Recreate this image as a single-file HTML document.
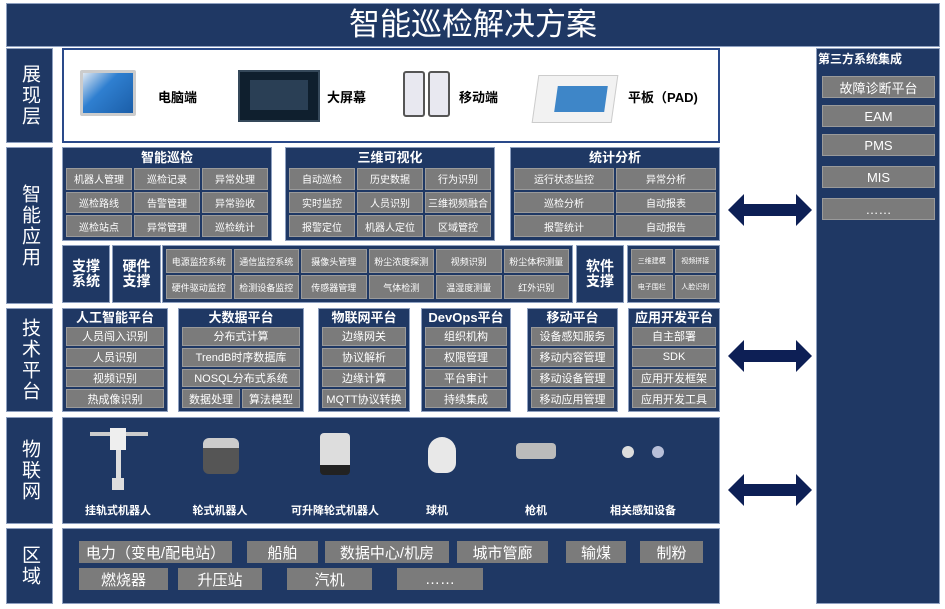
<!DOCTYPE html><html><head><meta charset="utf-8"><style>
*{box-sizing:border-box;margin:0;padding:0}
body{width:945px;height:609px;background:#fff;position:relative;overflow:hidden;font-family:"Liberation Sans","Noto Sans CJK SC",sans-serif;color:#fff}
.a{position:absolute}
.n{background:#1f3864;border:1px solid #8ea0c0}
.lab{display:flex;align-items:center;justify-content:center;writing-mode:vertical-rl;font-size:19px;letter-spacing:2px}
.box{display:flex;flex-direction:column;padding:0 3px 3px}
.t{text-align:center;font-size:13px;font-weight:bold;line-height:20px}
.g{display:grid;gap:2px;flex:1}
.c{background:#7b7b7b;border:1px solid #9a9a9a;display:flex;align-items:center;justify-content:center;font-size:10px;white-space:nowrap;overflow:hidden}
.p{background:#7b7b7b;font-size:15px;display:flex;align-items:center;justify-content:center;height:22px}
.dl{font-size:11px;font-weight:bold;text-align:center;width:120px}
.dev{font-size:13px;color:#000;font-weight:bold}
</style></head><body>
<div class="a n" style="left:6px;top:3px;width:934px;height:44px;font-size:31px;text-align:center;line-height:42px">智能巡检解决方案</div>

<div class="a n lab" style="left:6px;top:48px;width:47px;height:95px">展现层</div>
<div class="a n lab" style="left:6px;top:147px;width:47px;height:157px">智能应用</div>
<div class="a n lab" style="left:6px;top:308px;width:47px;height:104px">技术平台</div>
<div class="a n lab" style="left:6px;top:417px;width:47px;height:107px">物联网</div>
<div class="a n lab" style="left:6px;top:528px;width:47px;height:76px">区域</div>

<!-- 展现层 -->
<div class="a" style="left:62px;top:48px;width:658px;height:95px;border:2px solid #2a4a8a;background:#fff"></div>
<div class="a" style="left:80px;top:70px;width:56px;height:46px;background:linear-gradient(135deg,#dfe8f2,#2f7fd0 40%,#1b5ea8);border:3px solid #ccc;border-radius:2px"></div>
<div class="a dev" style="left:158px;top:87px">电脑端</div>
<div class="a" style="left:238px;top:70px;width:82px;height:52px;background:#0f1f2e;border:2px solid #35485a"><div style="margin:8px 10px;height:30px;background:#2a3f55"></div></div>
<div class="a dev" style="left:327px;top:87px">大屏幕</div>
<div class="a" style="left:403px;top:71px;width:22px;height:46px;background:#e8e8f0;border:2px solid #555;border-radius:3px"></div>
<div class="a" style="left:428px;top:71px;width:22px;height:46px;background:#e8e8f0;border:2px solid #555;border-radius:3px"></div>
<div class="a dev" style="left:459px;top:87px">移动端</div>
<div class="a" style="left:535px;top:75px;width:80px;height:48px;background:#f2f2f2;border:1px solid #ccc;transform:skewX(-8deg)"><div style="margin:10px 8px 8px 20px;height:26px;background:#3e86c8"></div></div>
<div class="a dev" style="left:628px;top:87px">平板（PAD)</div>

<!-- 智能应用 -->
<div class="a n box" style="left:62px;top:147px;width:210px;height:94px"><div class="t">智能巡检</div><div class="g" style="grid-template-columns:repeat(3,1fr)"><div class="c">机器人管理</div><div class="c">巡检记录</div><div class="c">异常处理</div><div class="c">巡检路线</div><div class="c">告警管理</div><div class="c">异常验收</div><div class="c">巡检站点</div><div class="c">异常管理</div><div class="c">巡检统计</div></div></div>
<div class="a n box" style="left:285px;top:147px;width:210px;height:94px"><div class="t">三维可视化</div><div class="g" style="grid-template-columns:repeat(3,1fr)"><div class="c">自动巡检</div><div class="c">历史数据</div><div class="c">行为识别</div><div class="c">实时监控</div><div class="c">人员识别</div><div class="c">三维视频融合</div><div class="c">报警定位</div><div class="c">机器人定位</div><div class="c">区域管控</div></div></div>
<div class="a n box" style="left:510px;top:147px;width:210px;height:94px"><div class="t">统计分析</div><div class="g" style="grid-template-columns:repeat(2,1fr)"><div class="c">运行状态监控</div><div class="c">异常分析</div><div class="c">巡检分析</div><div class="c">自动报表</div><div class="c">报警统计</div><div class="c">自动报告</div></div></div>

<div class="a n" style="left:62px;top:245px;width:48px;height:58px;font-size:14px;font-weight:bold;display:flex;align-items:center;justify-content:center;text-align:center;line-height:15px">支撑<br>系统</div>
<div class="a n" style="left:112px;top:245px;width:49px;height:58px;font-size:14px;font-weight:bold;display:flex;align-items:center;justify-content:center;text-align:center;line-height:15px">硬件<br>支撑</div>
<div class="a n" style="left:162px;top:245px;width:411px;height:58px;padding:3px"><div class="g" style="height:100%;grid-template-columns:repeat(6,1fr)"><div class="c" style="font-size:9px">电源监控系统</div><div class="c" style="font-size:9px">通信监控系统</div><div class="c" style="font-size:9px">摄像头管理</div><div class="c" style="font-size:9px">粉尘浓度探测</div><div class="c" style="font-size:9px">视频识别</div><div class="c" style="font-size:9px">粉尘体积测量</div><div class="c" style="font-size:9px">硬件驱动监控</div><div class="c" style="font-size:9px">检测设备监控</div><div class="c" style="font-size:9px">传感器管理</div><div class="c" style="font-size:9px">气体检测</div><div class="c" style="font-size:9px">温湿度测量</div><div class="c" style="font-size:9px">红外识别</div></div></div>
<div class="a n" style="left:576px;top:245px;width:48px;height:58px;font-size:14px;font-weight:bold;display:flex;align-items:center;justify-content:center;text-align:center;line-height:15px">软件<br>支撑</div>
<div class="a n" style="left:627px;top:245px;width:93px;height:58px;padding:3px"><div class="g" style="height:100%;grid-template-columns:repeat(2,1fr)"><div class="c" style="font-size:7px">三维建模</div><div class="c" style="font-size:7px">视频拼接</div><div class="c" style="font-size:7px">电子围栏</div><div class="c" style="font-size:7px">人脸识别</div></div></div>

<!-- 技术平台 -->
<div class="a n box" style="left:62px;top:308px;width:106px;height:104px"><div class="t" style="line-height:18px">人工智能平台</div><div class="g" style="grid-template-rows:repeat(4,1fr)"><div class="c" style="font-size:11px">人员闯入识别</div><div class="c" style="font-size:11px">人员识别</div><div class="c" style="font-size:11px">视频识别</div><div class="c" style="font-size:11px">热成像识别</div></div></div>
<div class="a n box" style="left:178px;top:308px;width:126px;height:104px"><div class="t" style="line-height:18px">大数据平台</div><div class="g" style="grid-template-columns:1fr 1fr;grid-template-rows:repeat(4,1fr)"><div class="c" style="font-size:11px;grid-column:span 2">分布式计算</div><div class="c" style="font-size:11px;grid-column:span 2">TrendB时序数据库</div><div class="c" style="font-size:11px;grid-column:span 2">NOSQL分布式系统</div><div class="c" style="font-size:11px">数据处理</div><div class="c" style="font-size:11px">算法模型</div></div></div>
<div class="a n box" style="left:318px;top:308px;width:92px;height:104px"><div class="t" style="line-height:18px">物联网平台</div><div class="g" style="grid-template-rows:repeat(4,1fr)"><div class="c" style="font-size:11px">边缘网关</div><div class="c" style="font-size:11px">协议解析</div><div class="c" style="font-size:11px">边缘计算</div><div class="c" style="font-size:11px">MQTT协议转换</div></div></div>
<div class="a n box" style="left:421px;top:308px;width:90px;height:104px"><div class="t" style="line-height:18px">DevOps平台</div><div class="g" style="grid-template-rows:repeat(4,1fr)"><div class="c" style="font-size:11px">组织机构</div><div class="c" style="font-size:11px">权限管理</div><div class="c" style="font-size:11px">平台审计</div><div class="c" style="font-size:11px">持续集成</div></div></div>
<div class="a n box" style="left:527px;top:308px;width:91px;height:104px"><div class="t" style="line-height:18px">移动平台</div><div class="g" style="grid-template-rows:repeat(4,1fr)"><div class="c" style="font-size:11px">设备感知服务</div><div class="c" style="font-size:11px">移动内容管理</div><div class="c" style="font-size:11px">移动设备管理</div><div class="c" style="font-size:11px">移动应用管理</div></div></div>
<div class="a n box" style="left:628px;top:308px;width:92px;height:104px"><div class="t" style="line-height:18px">应用开发平台</div><div class="g" style="grid-template-rows:repeat(4,1fr)"><div class="c" style="font-size:11px">自主部署</div><div class="c" style="font-size:11px">SDK</div><div class="c" style="font-size:11px">应用开发框架</div><div class="c" style="font-size:11px">应用开发工具</div></div></div>

<!-- 物联网 -->
<div class="a n" style="left:62px;top:417px;width:658px;height:107px"></div>
<div class="a" style="left:90px;top:432px;width:58px;height:4px;background:#ccc"></div>
<div class="a" style="left:110px;top:428px;width:16px;height:22px;background:#eee"></div>
<div class="a" style="left:116px;top:450px;width:5px;height:28px;background:#ddd"></div>
<div class="a" style="left:112px;top:478px;width:12px;height:12px;background:#ddd"></div>
<div class="a" style="left:203px;top:438px;width:36px;height:36px;background:#555;border-radius:6px;border-top:10px solid #ccc"></div>
<div class="a" style="left:320px;top:433px;width:30px;height:42px;background:#ddd;border-radius:4px;border-bottom:10px solid #222"></div>
<div class="a" style="left:428px;top:437px;width:28px;height:36px;background:#e8e8e8;border-radius:14px 14px 10px 10px"></div>
<div class="a" style="left:516px;top:443px;width:40px;height:16px;background:#bbb;border-radius:4px"></div>
<div class="a" style="left:622px;top:446px;width:12px;height:12px;background:#ddd;border-radius:50%"></div>
<div class="a" style="left:652px;top:446px;width:12px;height:12px;background:#b8bfd8;border-radius:50%"></div>
<div class="a dl" style="left:58px;top:502px">挂轨式机器人</div>
<div class="a dl" style="left:160px;top:502px">轮式机器人</div>
<div class="a dl" style="left:275px;top:502px">可升降轮式机器人</div>
<div class="a dl" style="left:377px;top:502px">球机</div>
<div class="a dl" style="left:476px;top:502px">枪机</div>
<div class="a dl" style="left:583px;top:502px">相关感知设备</div>

<!-- 区域 -->
<div class="a n" style="left:62px;top:528px;width:658px;height:76px"></div>
<div class="a p" style="left:79px;top:541px;width:153px">电力（变电/配电站）</div>
<div class="a p" style="left:247px;top:541px;width:71px">船舶</div>
<div class="a p" style="left:325px;top:541px;width:124px">数据中心/机房</div>
<div class="a p" style="left:457px;top:541px;width:91px">城市管廊</div>
<div class="a p" style="left:566px;top:541px;width:60px">输煤</div>
<div class="a p" style="left:640px;top:541px;width:63px">制粉</div>
<div class="a p" style="left:79px;top:568px;width:89px">燃烧器</div>
<div class="a p" style="left:178px;top:568px;width:84px">升压站</div>
<div class="a p" style="left:287px;top:568px;width:85px">汽机</div>
<div class="a p" style="left:397px;top:568px;width:86px">……</div>

<!-- arrows -->
<svg class="a" style="left:726px;top:190px" width="88" height="320" viewBox="0 0 88 320">
<g fill="#0d1f55">
<polygon points="2,20 18,4 18,14 70,14 70,4 86,20 70,36 70,26 18,26 18,36"/>
<polygon points="2,166 18,150 18,160 70,160 70,150 86,166 70,182 70,172 18,172 18,182"/>
<polygon points="2,300 18,284 18,294 70,294 70,284 86,300 70,316 70,306 18,306 18,316"/>
</g></svg>

<!-- right panel -->
<div class="a n" style="left:816px;top:48px;width:124px;height:556px"></div>
<div class="a" style="left:818px;top:50px;font-size:12px;font-weight:bold">第三方系统集成</div>
<div class="a p" style="left:822px;top:76px;width:113px;font-size:13px;border:1px solid #9a9a9a">故障诊断平台</div>
<div class="a p" style="left:822px;top:105px;width:113px;font-size:13px;border:1px solid #9a9a9a">EAM</div>
<div class="a p" style="left:822px;top:134px;width:113px;font-size:13px;border:1px solid #9a9a9a">PMS</div>
<div class="a p" style="left:822px;top:166px;width:113px;font-size:13px;border:1px solid #9a9a9a">MIS</div>
<div class="a p" style="left:822px;top:198px;width:113px;font-size:13px;border:1px solid #9a9a9a">……</div>
</body></html>
